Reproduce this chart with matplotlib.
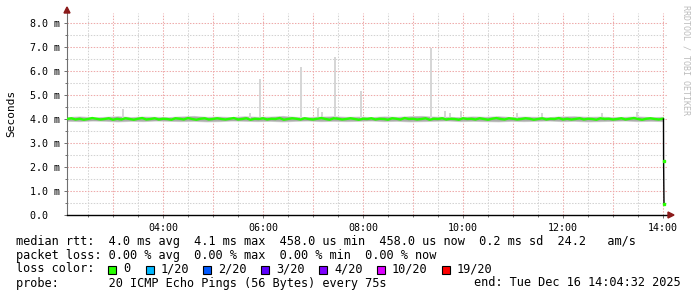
import numpy as np
import matplotlib
matplotlib.use("Agg")
import matplotlib.pyplot as plt
from matplotlib.patches import Rectangle, Polygon

W, H = 697, 297

# --- data (ms, hours of day) ---
median_rtt = [
    4.00, 4.03, 3.98, 4.01, 3.97, 4.00, 4.04, 4.01, 3.98, 4.00, 4.03, 3.97,
    4.01, 3.98, 4.03, 4.00, 3.97, 4.01, 4.04, 3.98, 4.00, 4.03, 3.98, 4.01,
    4.00, 3.97, 4.03, 4.01, 3.98, 4.04, 4.00, 3.97, 4.01, 4.03, 3.98, 4.00,
    4.03, 4.00, 3.98, 4.01, 4.04, 3.98, 4.00, 4.03, 3.97, 4.01, 4.00, 4.03,
    3.98, 4.01, 4.00, 4.04, 3.97, 4.00, 4.03, 4.01, 3.98, 4.03, 4.00, 3.98,
    4.01, 4.04, 4.00, 3.97, 4.03, 4.01, 3.98, 4.00, 4.03, 4.00, 3.97, 4.01,
    4.00, 4.03, 3.98, 4.01, 4.00, 3.97, 4.03, 4.01, 3.98, 4.04, 4.00, 4.01,
    3.98, 4.00, 4.03, 3.97, 4.01, 4.00, 4.03, 3.98, 4.01, 4.00, 3.97, 4.03,
    4.00, 4.01, 3.98, 4.03, 4.00, 3.97, 4.01, 4.04, 4.00, 3.98, 4.03, 4.01,
    3.98, 4.00, 4.03, 4.01, 3.97, 4.00, 4.03, 3.98, 4.01, 4.00, 4.04, 3.98,
    4.01, 3.98, 4.00, 4.03, 3.98, 4.01, 4.00, 3.97, 4.03, 4.00, 4.01, 3.98,
    4.00, 4.03, 3.98, 4.01, 4.04, 4.00, 3.97, 4.01, 4.03, 4.00, 3.98, 4.01,
]
smoke_hi = [
    4.10, 4.13, 4.09, 4.11, 4.14, 4.10, 4.12, 4.11, 4.10, 4.13, 4.15, 4.11,
    4.12, 4.10, 4.14, 4.11, 4.12, 4.15, 4.11, 4.10, 4.12, 4.14, 4.11, 4.12,
    4.10, 4.13, 4.11, 4.14, 4.15, 4.12, 4.11, 4.10, 4.13, 4.11, 4.14, 4.10,
    4.12, 4.11, 4.10, 4.13, 4.14, 4.11, 4.12, 4.10, 4.11, 4.13, 4.10, 4.11,
]
smoke_lo = [
    3.90, 3.89, 3.91, 3.90, 3.88, 3.90, 3.89, 3.91, 3.90, 3.89, 3.90, 3.88,
    3.89, 3.91, 3.90, 3.89, 3.90, 3.88, 3.90, 3.91, 3.89, 3.90, 3.89, 3.90,
    3.91, 3.89, 3.90, 3.88, 3.89, 3.90, 3.91, 3.89, 3.90, 3.89, 3.88, 3.90,
    3.89, 3.90, 3.91, 3.89, 3.90, 3.88, 3.89, 3.90, 3.91, 3.89, 3.90, 3.89,
]
spike_hours = [3.20, 5.74, 5.94, 6.76, 7.10, 7.18, 7.44, 7.96, 9.36, 9.64, 9.74,
               9.96, 11.08, 11.58, 12.78, 13.48]
spike_tops = [4.40, 4.25, 5.67, 6.17, 4.45, 4.30, 6.58, 5.17, 6.96, 4.33, 4.25,
              4.35, 4.25, 4.25, 4.25, 4.30]
tail_hours = [14.01, 14.012, 14.02]
tail_rtt = [4.00, 2.25, 0.45]

y_ticks = [0, 1, 2, 3, 4, 5, 6, 7, 8]
y_labels = ["0.0  ", "1.0 m", "2.0 m", "3.0 m", "4.0 m", "5.0 m", "6.0 m", "7.0 m", "8.0 m"]
x_ticks = [4, 6, 8, 10, 12, 14]
x_labels = ["04:00", "06:00", "08:00", "10:00", "12:00", "14:00"]

loss_labels = ["0", "1/20", "2/20", "3/20", "4/20", "10/20", "19/20"]
loss_colors = ["#26ff00", "#00b8ff", "#0059ff", "#5e00ff", "#7e00ff", "#dd00ff", "#ff0000"]

mono = "DejaVu Sans Mono"
fig = plt.figure(figsize=(W / 100, H / 100), dpi=100)
fig.patch.set_facecolor("white")

x0, x1 = 2.08, 14.10
y_top = 202 / 24
ax = fig.add_axes([67 / W, 82 / H, 601 / W, 202 / H])
ax.set_xlim(x0, x1)
ax.set_ylim(0, y_top)
ax.set_facecolor("white")

# grid
dots = (0, (1.4, 1.4))
for h in np.arange(2.5, 14.0, 1.0):
    ax.axvline(h, color="#d2d2d2", lw=0.75, ls=dots, zorder=0)
for h in np.arange(3, 15, 1):
    ax.axvline(h, color="#eeaaaa", lw=0.75, ls=dots, zorder=0)
for v in np.arange(0.5, 8.5, 1.0):
    ax.axhline(v, color="#d2d2d2", lw=0.75, ls=dots, zorder=0)
for v in range(1, 9):
    ax.axhline(v, color="#eeaaaa", lw=0.75, ls=dots, zorder=0)

# smoke
t_med = np.linspace(2 + 5 / 60, 14.0, len(median_rtt))
t_smoke = np.linspace(2 + 5 / 60, 14.0, len(smoke_hi))
ax.fill_between(t_smoke, smoke_lo, smoke_hi, color="#d6d6d6", lw=0, zorder=1)
ax.fill_between(t_smoke, np.array(smoke_lo) + 0.03, np.array(smoke_hi) - 0.03,
                color="#ababab", lw=0, zorder=1)
ax.bar(spike_hours, np.array(spike_tops) - 4.0, bottom=4.0, width=0.045,
       color="#d6d6d6", lw=0, zorder=1)

# median line
ax.plot(t_med, median_rtt, color=loss_colors[0], lw=1.7, zorder=3)
ax.plot(tail_hours, tail_rtt, color="black", lw=1.0, zorder=3)
ax.plot(tail_hours[1:], tail_rtt[1:], ls="none", marker="s", ms=1.5,
        color=loss_colors[0], zorder=4)

# axes styling
for s in ["top", "right"]:
    ax.spines[s].set_visible(False)
ax.spines["left"].set_color("#707070")
ax.spines["left"].set_linewidth(0.8)
ax.spines["bottom"].set_color("black")
ax.spines["bottom"].set_linewidth(1.0)
ax.spines["bottom"].set_zorder(5)

ax.set_yticks(y_ticks)
ax.set_yticklabels(y_labels, family=mono, fontsize=7.2)
ax.set_yticks(np.arange(0.5, 8.5, 1.0), minor=True)
ax.set_xticks(x_ticks)
ax.set_xticklabels(x_labels, family=mono, fontsize=7.2)
ax.set_xticks(np.arange(2.5, 14.1, 0.5), minor=True)
ax.tick_params(axis="y", which="major", length=2.5, width=0.7, color="#707070", pad=2.5)
ax.tick_params(axis="y", which="minor", length=1.5, width=0.7, color="#707070")
ax.tick_params(axis="x", which="major", length=2.5, width=0.7, color="#707070", pad=3.5)
ax.tick_params(axis="x", which="minor", length=1.5, width=0.7, color="#707070")


def fx(x):
    return x / W


def fy(y):
    return 1 - y / H


# arrows
arrow_col = "#8b1a1a"
fig.patches.append(Polygon([(fx(64), fy(13)), (fx(70), fy(13)), (fx(67), fy(7))],
                           closed=True, color=arrow_col, transform=fig.transFigure))
fig.patches.append(Polygon([(fx(668), fy(212)), (fx(668), fy(218)), (fx(674), fy(215))],
                           closed=True, color=arrow_col, transform=fig.transFigure))

fig.text(fx(11), fy(113), "Seconds", rotation=90, ha="center", va="center",
         family=mono, fontsize=8)
fig.text(fx(686), fy(5), "RRDTOOL / TOBI OETIKER", rotation=270, ha="center", va="top",
         family=mono, fontsize=6, color="#bcbcbc")

# legend
fs = 8.55
fig.text(fx(16), fy(241),
         "median rtt:  4.0 ms avg  4.1 ms max  458.0 us min  458.0 us now  0.2 ms sd  24.2   am/s",
         family=mono, fontsize=fs, va="center")
fig.text(fx(16), fy(255),
         "packet loss: 0.00 % avg  0.00 % max  0.00 % min  0.00 % now",
         family=mono, fontsize=fs, va="center")
fig.text(fx(16), fy(269), "loss color:", family=mono, fontsize=fs, va="center")
box_x = [108, 146, 203, 261, 319, 377, 442]
for bx, lab, col in zip(box_x, loss_labels, loss_colors):
    fig.patches.append(Rectangle((fx(bx), fy(274)), 8 / W, 8 / H, facecolor=col,
                                 edgecolor="black", lw=0.8, transform=fig.transFigure))
    fig.text(fx(bx + 15), fy(269), lab, family=mono, fontsize=fs, va="center")
fig.text(fx(16), fy(283), "probe:       20 ICMP Echo Pings (56 Bytes) every 75s",
         family=mono, fontsize=fs, va="center")
fig.text(fx(681), fy(283), "end: Tue Dec 16 14:04:32 2025",
         family=mono, fontsize=fs, va="center", ha="right")

fig.savefig("out.png", dpi=100)
